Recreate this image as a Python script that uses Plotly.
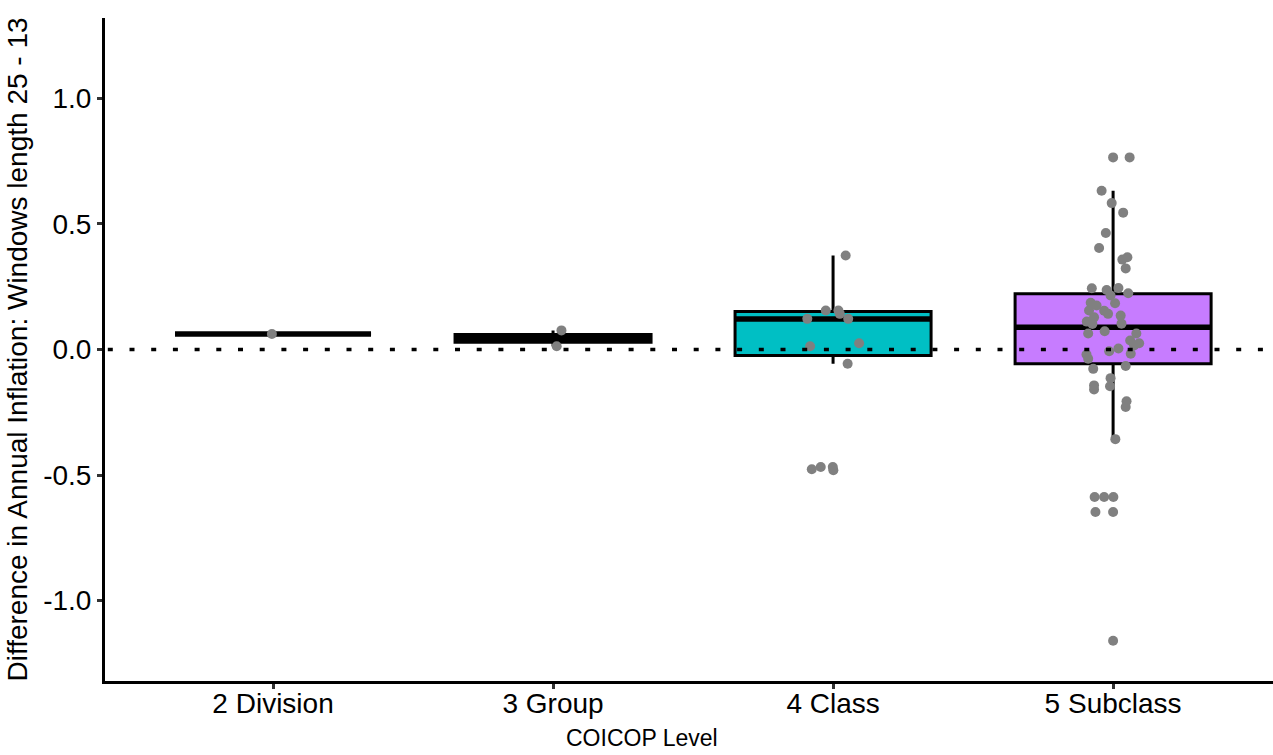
import plotly.graph_objects as go

# COICOP levels on the x axis
levels = ["2 Division", "3 Group", "4 Class", "5 Subclass"]
level_pos = [1, 2, 3, 4]
box_fill = ["#F8766D", "#7CAE00", "#00BFC4", "#C77CFF"]

# Box statistics per level (lower whisker, Q1, median, Q3, upper whisker)
whisker_lo = [0.062, 0.013, -0.057, -0.352]
q1 = [0.062, 0.029, -0.024, -0.057]
median = [0.062, 0.044, 0.121, 0.089]
q3 = [0.062, 0.060, 0.151, 0.222]
whisker_hi = [0.062, 0.076, 0.374, 0.632]

# Individual differences per level, with their horizontal jitter
division_vals = [0.062]
division_jit = [-0.004]

group_vals = [0.076, 0.013]
group_jit = [0.030, 0.013]

class_vals = [0.374, 0.155, 0.155, 0.142, 0.122, 0.122, 0.025, 0.013, -0.057,
              -0.477, -0.468, -0.468, -0.481]
class_jit = [0.045, -0.026, 0.019, 0.024, -0.092, 0.054, 0.093, -0.082, 0.052,
             -0.076, -0.044, -0.001, 0.001]

subclass_vals = [0.765, 0.765, 0.632, 0.583, 0.545, 0.464, 0.404, 0.358, 0.367, 0.323,
                 0.244, 0.237, 0.245, 0.224, 0.215, 0.184, 0.186, 0.175, 0.154, 0.142,
                 0.155, 0.128, 0.135, 0.111, 0.102, 0.103, 0.064, 0.073, 0.064, 0.036,
                 0.025, 0.016, 0.004, -0.007, -0.020, -0.037, -0.077, -0.017, -0.066,
                 -0.114, -0.146, -0.143, -0.159, -0.206, -0.229, -0.357, -0.587, -0.587,
                 -0.587, -0.647, -0.647, -1.160]
subclass_jit = [0.000, 0.059, -0.041, -0.005, 0.036, -0.026, -0.050, 0.033, 0.051, 0.045,
                -0.076, -0.023, 0.019, 0.054, -0.009, 0.007, -0.080, -0.059, -0.032, -0.018,
                -0.086, -0.068, 0.027, -0.094, -0.074, 0.030, -0.089, -0.030, 0.083, 0.061,
                0.093, 0.075, 0.019, -0.014, -0.095, -0.089, -0.071, 0.063, 0.045,
                -0.009, -0.011, -0.068, -0.068, 0.048, 0.045, 0.008, -0.066, -0.032,
                0.001, -0.063, 0.000, 0.000]

point_vals = [division_vals, group_vals, class_vals, subclass_vals]
point_jit = [division_jit, group_jit, class_jit, subclass_jit]

box_width = 0.7
font_family = "Liberation Sans, Arial, sans-serif"

fig = go.Figure()

for i in range(len(levels)):
    fig.add_trace(go.Box(
        x=[level_pos[i]],
        lowerfence=[whisker_lo[i]], q1=[q1[i]], median=[median[i]],
        q3=[q3[i]], upperfence=[whisker_hi[i]],
        width=box_width, whiskerwidth=0,
        fillcolor=box_fill[i],
        line=dict(color="black", width=3),
        boxpoints=False, showlegend=False, hoverinfo="skip",
    ))

# Thicker median bars drawn over each box
mx, my = [], []
for i in range(len(levels)):
    mx += [level_pos[i] - box_width / 2, level_pos[i] + box_width / 2, None]
    my += [median[i], median[i], None]
fig.add_trace(go.Scatter(x=mx, y=my, mode="lines",
                         line=dict(color="black", width=5.5),
                         showlegend=False, hoverinfo="skip"))

# Jittered points
for i in range(len(levels)):
    fig.add_trace(go.Scatter(
        x=[level_pos[i] + j for j in point_jit[i]],
        y=point_vals[i],
        mode="markers",
        marker=dict(color="#808080", size=10, line=dict(width=0)),
        showlegend=False, hoverinfo="skip",
    ))

x_lo, x_hi = 0.4, 4.571

# Dotted reference line at zero
fig.add_shape(type="line", xref="x", yref="y",
              x0=x_lo + 0.01, x1=x_hi, y0=0, y1=0,
              line=dict(color="black", width=3.3, dash="5px,16.7px"),
              layer="above")

# x-axis title placed below the tick labels
fig.add_annotation(text="COICOP Level", xref="paper", yref="paper",
                   x=0.46, y=-0.086, xanchor="center", yanchor="middle",
                   showarrow=False, font=dict(size=23, color="black"))

fig.update_layout(
    width=1273, height=755,
    margin=dict(l=105, r=0, t=18, b=74),
    paper_bgcolor="white", plot_bgcolor="white",
    boxmode="overlay",
    font=dict(family=font_family, size=28, color="black"),
    xaxis=dict(
        range=[x_lo, x_hi],
        tickmode="array", tickvals=level_pos, ticktext=levels,
        showline=True, linecolor="black", linewidth=3,
        ticks="outside", ticklen=5, tickwidth=3, tickcolor="#333333",
        ticklabelstandoff=-10,
        showgrid=False, zeroline=False,
        tickfont=dict(size=28, color="black"),
    ),
    yaxis=dict(
        range=[-1.32, 1.32],
        tickmode="array", tickvals=[-1, -0.5, 0, 0.5, 1],
        ticktext=["-1.0", "-0.5", "0.0", "0.5", "1.0"],
        showline=True, linecolor="black", linewidth=3,
        ticks="outside", ticklen=5, tickwidth=3, tickcolor="#333333",
        showgrid=False, zeroline=False,
        tickfont=dict(size=28, color="black"),
        title=dict(text="Difference in Annual Inflation: Windows length 25 - 13",
                   font=dict(size=28), standoff=8),
    ),
)

fig.write_html("out.html")
